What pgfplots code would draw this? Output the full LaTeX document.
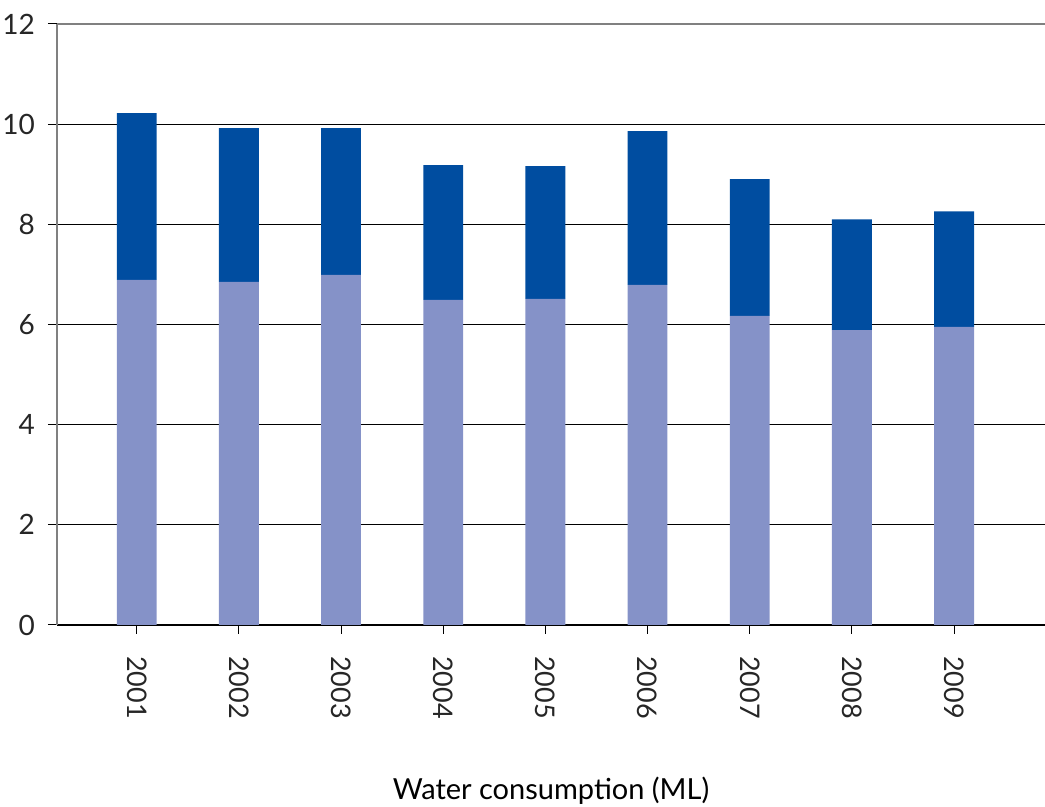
\documentclass[border=0pt]{standalone}
\usepackage{pgfplots}
\pgfplotsset{compat=1.18}
\usetikzlibrary{calc}
\usepackage{fontspec}
\setmainfont{Lato}

\definecolor{topblue}{RGB}{0,77,160}
\definecolor{lowblue}{RGB}{133,146,200}

\begin{document}
\begin{tikzpicture}
\begin{axis}[
    scale only axis,
    width=494pt,
    height=300.5pt,
    ybar stacked,
    bar width=0.39,
    xmin=-0.78, xmax=8.89,
    ymin=0, ymax=12,
    ytick={0,2,4,6,8,10,12},
    xtick=data,
    xticklabels={2001,2002,2003,2004,2005,2006,2007,2008,2009},
    axis x line*=bottom,
    axis y line*=left,
    x axis line style={black, line width=0.6pt},
    y axis line style={gray, line width=0.6pt},
    tick align=outside,
    major tick length=4.5pt,
    tick style={black, line width=0.5pt},
    ymajorgrids,
    grid style={black, line width=0.5pt},
    /pgf/number format/assume math mode=true,
    yticklabel style={font=\fontsize{14}{16}\selectfont, text=black!85, xshift=-3pt},
    xticklabel style={font=\fontsize{13.5}{16}\selectfont, text=black!85,
        yshift=-7.5pt, rotate=-90, anchor=west},
    xlabel={Water consumption (ML)},
    xlabel style={font=\fontsize{14.5}{16}\selectfont, yshift=-22.5pt},
    every axis plot/.append style={draw=none},
]
% lower segment
\addplot[fill=lowblue] coordinates {
    (0,6.89) (1,6.85) (2,6.99) (3,6.49) (4,6.51) (5,6.79) (6,6.17) (7,5.89) (8,5.95)
};
% upper segment
\addplot[fill=topblue] coordinates {
    (0,3.33) (1,3.07) (2,2.93) (3,2.69) (4,2.65) (5,3.07) (6,2.73) (7,2.21) (8,2.31)
};
\draw[gray, line width=0.8pt] (rel axis cs:0,1) -- (rel axis cs:1,1);
\end{axis}
\pgfresetboundingbox
\path ($(current axis.south west)+(-28.5pt,-91pt)$) rectangle ($(current axis.north east)+(0pt,12pt)$);
\end{tikzpicture}
\end{document}
